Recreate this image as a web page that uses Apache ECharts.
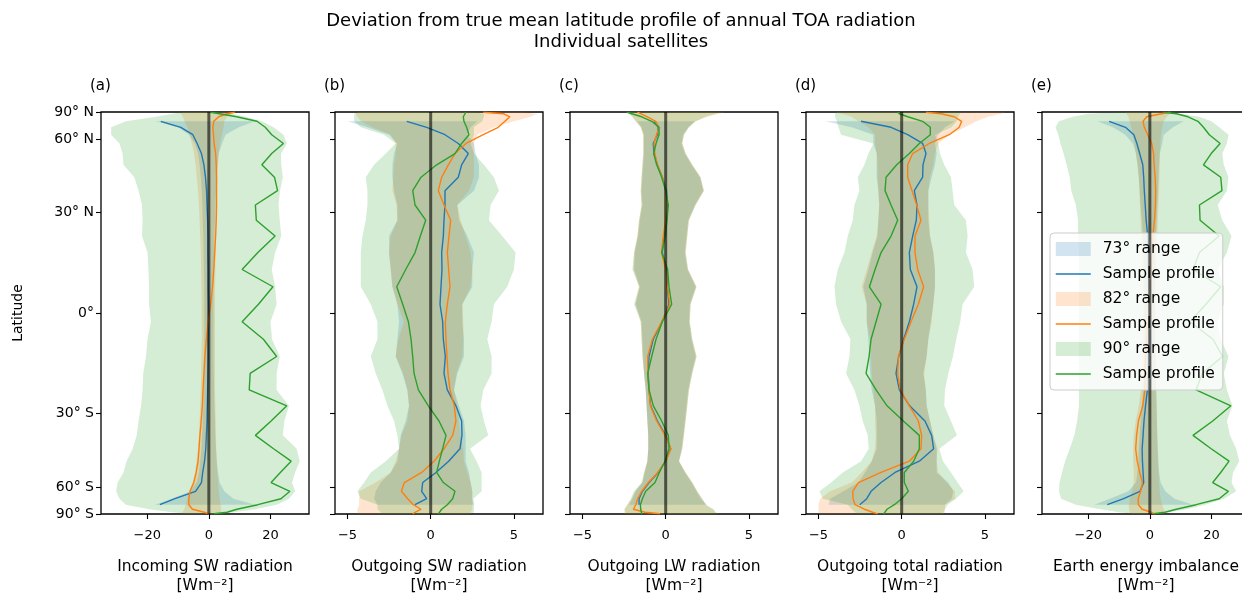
<!DOCTYPE html>
<html>
<head>
<meta charset="utf-8">
<script src="https://cdn.jsdelivr.net/npm/echarts@6/dist/echarts.min.js"></script>
<style>
html,body{margin:0;padding:0;background:#fff;}
#chart{width:1242px;height:595px;}
</style>
</head>
<body>
<div id="chart"></div>
<script>
var N = null;
// Latitude bin centres (degrees), south to north
var LAT = [-87.5,-82.5,-77.5,-72.5,-67.5,-62.5,-57.5,-52.5,-47.5,-42.5,-37.5,-32.5,-27.5,-22.5,-17.5,-12.5,-7.5,-2.5,
           2.5,7.5,12.5,17.5,22.5,27.5,32.5,37.5,42.5,47.5,52.5,57.5,62.5,67.5,72.5,77.5,82.5,87.5];
var LAT_TICKS = [-90,-60,-30,0,30,60,90];
var LAT_TICK_LABELS = ['90° S','60° S','30° S','0°','30° N','60° N','90° N'];
var X_TICKS_WIDE = [-20,0,20];
var X_TICKS_NARROW = [-5,0,5];
var PANEL_LETTERS = ['(a)','(b)','(c)','(d)','(e)'];
var AXIS_NAMES = ['Incoming SW radiation','Outgoing SW radiation','Outgoing LW radiation','Outgoing total radiation','Earth energy imbalance'];
var UNIT = '[Wm⁻²]';
var RANGE_NAMES = ['73° range','82° range','90° range'];
var PROFILE_NAMES = ['Sample profile','Sample profile\u200b','Sample profile\u200b\u200b'];
var TITLE_LINES = ['Deviation from true mean latitude profile of annual TOA radiation','Individual satellites'];

// (a) Incoming SW
var a73line = [N,N,N,-15.9,-11,-4.3,-2.4,-2.0,-1.4,-1.0,-0.8,-0.6,-0.5,-0.4,-0.3,-0.2,-0.2,-0.1, -0.1,-0.2,-0.2,-0.3,-0.3,-0.4,-0.6,-0.75,-1.1,-1.6,-2.4,-3.8,-5.2,-9.1,-15.6,N,N,N];
var a73lo = [N,N,N,-17.5,-12,-6,-4,-3.2,-2.8,-2.4,-2.2,-2.0,-1.8,-1.7,-1.6,-1.5,-1.5,-1.5, -1.5,-1.5,-1.6,-1.7,-1.8,-2.0,-2.1,-2.3,-2.6,-3.0,-3.5,-4.5,-6.5,-10,-17.2,N,N,N];
var a73hi = [N,N,N,15,8,5,3.5,3,2.6,2.3,2.1,2.0,1.8,1.7,1.6,1.5,1.5,1.5, 1.5,1.5,1.6,1.7,1.8,2.0,2.1,2.3,2.5,2.8,3.2,4.3,5.4,9.7,15,N,N,N];
var a82line = [0,-1.5,-5.3,-6.5,-6.5,-6.1,-4.9,-4.1,-3.5,-3.2,-2.9,-2.5,-2.1,-1.9,-1.6,-1.3,-0.8,-0.2, 0.6,1.2,1.6,1.9,2.2,2.4,2.5,2.5,2.5,2.4,2.2,1.7,1.5,1.3,1.6,3.2,5.9,8.4];
var a82lo = [-9,-8.5,-8,-7.5,-7,-6.5,-5.2,-4.5,-4,-3.5,-3.2,-3,-2.8,-2.6,-2.5,-2.4,-2.3,-2.3, -2.3,-2.4,-2.5,-2.6,-2.8,-3,-3.2,-3.5,-3.9,-4.3,-4.8,-5.5,-6.2,-7,-7.8,-8.5,-9,-9];
var a82hi = [4,4,4,3.8,3.5,3.2,3,2.7,2.5,2.4,2.3,2.2,2.1,2.0,2.0,2.0,2.0,2.0, 2.0,2.0,2.1,2.2,2.3,2.4,2.5,2.6,2.8,3.0,3.2,3.6,4.2,4.8,5,6,7.5,9];
var a90line = [1.6,5.9,9.1,15.9,23.4,26.3,20.2,23.2,26.7,21,15.1,20.2,25.3,13.1,13.4,22,17.7,10.8, 16.1,20.8,10.8,15.9,21.5,15.4,15.1,22.3,21.3,17.2,20.4,24.2,20.4,18.3,15.6,9,3.5,0.5];
var a90lo = [-6.5,-11.8,-19.4,-26.9,-29,-30.1,-29.6,-27.7,-26.7,-24.7,-23.4,-22.8,-22,-21.5,-21.3,-20.4,-19.9,-18.8, -19.4,-19.4,-19.6,-19.9,-21.7,-21.5,-21.7,-22.8,-24.2,-27.7,-28,-29,-31.7,-31.7,-26.9,-17.2,-11.8,-8.6];
var a90hi = [2,8,15,22,26,28,27,28,29.5,28.5,24,24.5,26,22,22,23,20.5,20, 22,21.5,20.4,21.5,23.5,23,22.6,23.1,24,23.5,23.4,25.3,24.2,21,17.2,11.8,7.5,2.2];

// (b) Outgoing SW
var b73line = [N,N,N,-0.94,-0.24,-0.54,-0.48,0.32,1.08,1.76,1.88,1.86,1.52,1.0,0.8,0.88,0.76,0.72, 0.56,0.62,0.68,0.66,0.76,0.8,0.86,0.86,1.66,1.86,2.26,1.66,0.86,-0.24,-1.44,N,N,N];
var b73lo = [N,N,N,-3.2,-3.4,-3.3,-3.0,-2.4,-2.0,-1.9,-1.8,-1.5,-1.3,-1.4,-1.7,-2.1,-2.0,-1.9, -2.0,-2.3,-2.4,-2.5,-2.5,-2.0,-2.0,-2.2,-2.3,-2.3,-2.2,-2.0,-2.5,-3.8,-5.0,N,N,N];
var b73hi = [N,N,N,2.6,2.5,2.5,2.4,2.3,2.1,2.1,2.1,2.0,1.7,1.4,1.6,2.0,2.0,1.9, 1.9,2.5,2.5,2.6,2.2,1.7,1.6,2.6,2.9,2.9,2.7,2.6,2.2,2.4,2.8,N,N,N];
var b82line = [-1.08,-0.94,-0.58,-1.04,-1.38,-1.76,-1.58,-0.54,0.2,0.8,1.32,1.52,1.42,1.16,1.04,0.98,0.92,0.88, 1.0,1.16,1.08,1.0,1.1,1.2,0.8,0.46,0.66,1.06,1.46,2.12,3.16,4.06,4.46,4.76,4.36,3.16];
var b82lo = [-4.4,-4.4,-4.4,-4.3,-4.3,-4.3,-3.3,-2.4,-2.1,-1.9,-1.75,-1.4,-1.3,-1.4,-1.65,-2.1,-1.95,-1.6, -2.0,-2.3,-2.4,-2.5,-2.4,-2.0,-2.05,-2.3,-2.25,-2.2,-2.1,-2.1,-2.4,-3.5,-4.2,-4.4,-4.5,-4.4];
var b82hi = [2.3,2.4,2.5,2.5,2.5,2.5,2.4,2.2,2.0,1.95,1.8,1.7,1.6,1.4,1.55,1.9,1.96,1.96, 1.9,2.4,2.5,2.4,2.1,1.8,1.6,2.3,2.6,2.6,2.6,2.6,2.8,3.8,5.0,6.0,6.4,5.5];
var b90line = [0.46,0.56,0.66,1.0,1.32,1.46,0.76,0.36,0.52,0.72,0.92,0.5,-0.14,-0.74,-1.0,-1.08,-1.18,-1.34, -1.68,-2.04,-1.5,-0.94,-0.62,-0.3,-0.94,-1.08,-0.58,0.36,1.46,1.86,2.3,2.16,2.0,1.96,2.06,2.1];
var b90lo = [-3.0,-3.0,-3.2,-3.2,-4.2,-4.4,-4.0,-3.6,-2.7,-1.9,-2.0,-2.2,-2.6,-2.9,-3.3,-3.6,-3.2,-3.2, -3.6,-4.2,-4.2,-4.2,-4.1,-3.9,-3.8,-3.8,-3.9,-3.4,-2.7,-2.1,-2.8,-4.2,-4.6,-4.6,-4.6,-4.3];
var b90hi = [2.4,2.6,2.6,2.6,2.56,3.06,3.06,3.06,2.76,2.36,3.46,3.2,3.0,3.16,3.66,3.66,3.4,3.66, 3.8,4.6,5.0,5.1,4.3,3.5,3.6,4.1,3.8,3.2,2.6,2.4,2.6,2.6,3.1,3.2,3.2,2.5];

// (c) Outgoing LW
var c73line = [N,N,N,-1.6,-1.6,-1.4,-1.0,-0.45,0.0,0.3,0.0,-0.5,-0.9,-1.0,-1.05,-1.0,-0.75,-0.22, 0.2,0.1,0.05,-0.2,-0.1,0.05,0.1,0.05,-0.2,-0.5,-0.7,-0.75,-0.5,-0.45,-0.7,N,N,N];
var c73lo = [N,N,N,-2.2,-2.0,-1.8,-1.4,-1.25,-1.1,-1.05,-1.05,-1.1,-1.15,-1.2,-1.3,-1.35,-1.4,-1.45, -1.8,-1.55,-1.9,-1.85,-1.65,-1.55,-1.4,-1.45,-1.4,-1.35,-1.3,-1.3,-1.3,-1.45,-1.7,N,N,N];
var c73hi = [N,N,N,2.5,2.1,1.85,1.55,1.15,0.8,0.95,1.05,1.15,1.25,1.35,1.55,1.8,1.55,1.4, 1.45,1.8,1.3,1.15,1.25,1.35,1.75,2.25,2.05,1.55,1.15,0.95,1.05,1.35,1.75,N,N,N];
var c82line = [-0.34,-1.24,-1.94,-1.8,-1.68,-1.44,-1.04,-0.48,0,0.32,-0.04,-0.54,-0.92,-1.0,-1.08,-1.08,-0.8,-0.24, 0.25,0.1,0.0,-0.25,-0.15,0,0.05,0,-0.2,-0.5,-0.65,-0.7,-0.55,-0.4,-0.6,-1.1,-1.5,-1.7];
var c82lo = [-2.5,-2.5,-2.45,-2.3,-2.05,-1.85,-1.4,-1.3,-1.1,-1.05,-1.05,-1.1,-1.15,-1.2,-1.3,-1.4,-1.45,-1.5, -1.85,-1.6,-1.95,-1.9,-1.7,-1.6,-1.45,-1.5,-1.45,-1.4,-1.35,-1.35,-1.35,-1.5,-1.8,-2.0,-2.2,-2.4];
var c82hi = [3.1,3.0,2.8,2.4,2.2,1.9,1.6,1.2,0.8,1.0,1.1,1.2,1.3,1.4,1.6,1.85,1.6,1.45, 1.5,1.85,1.35,1.2,1.3,1.4,1.8,2.3,2.1,1.6,1.2,1.0,1.1,1.4,1.8,2.5,3.2,3.6];
var c90line = [-1.44,-1.5,-1.5,-1.52,-1.4,-1.2,-0.64,-0.38,-0.04,0.2,0.16,-0.24,-0.74,-1.0,-1.08,-0.84,-0.58,-0.2, 0.36,0.2,0.12,-0.24,-0.02,0.08,0.16,0,-0.24,-0.54,-0.72,-0.58,-0.4,-0.4,-0.84,-1.44,-2.04,-2.34];
var c90lo = [-2.4,-2.4,-2.5,-2.3,-2.1,-1.9,-1.45,-1.3,-1.1,-1.04,-1.05,-1.1,-1.15,-1.2,-1.3,-1.4,-1.45,-1.5, -1.9,-1.6,-2.0,-1.9,-1.7,-1.6,-1.45,-1.5,-1.45,-1.4,-1.35,-1.35,-1.35,-1.5,-1.8,-2.0,-2.2,-2.44];
var c90hi = [3.2,3.0,2.9,2.4,2.2,1.9,1.6,1.2,0.8,1.0,1.1,1.2,1.3,1.4,1.6,1.86,1.6,1.45, 1.5,1.85,1.35,1.2,1.3,1.4,1.8,2.3,2.1,1.6,1.2,1.0,1.1,1.4,1.8,2.4,3.0,3.4];

// (d) Outgoing total
var d73line = [N,N,N,-2.52,-2.1,-1.84,-1.24,-0.4,1.06,1.92,1.8,1.4,0.48,-0.14,-0.34,-0.18,0.12,0.46, 0.72,0.92,0.52,0.46,0.66,0.88,0.92,0.76,1.26,1.28,1.46,1.26,0.36,-0.64,-2.44,N,N,N];
var d73lo = [N,N,N,-4.4,-4.3,-3.5,-2.6,-2.2,-1.8,-1.5,-1.5,-1.5,-1.6,-1.8,-1.9,-1.95,-2.0,-2.1, -2.1,-2.3,-2.0,-1.75,-1.45,-1.4,-1.35,-1.4,-1.5,-1.5,-1.5,-1.7,-1.7,-3.0,-4.6,N,N,N];
var d73hi = [N,N,N,2.6,3.0,3.1,2.8,2.1,2.1,2.1,1.9,1.7,1.5,1.45,1.3,1.5,1.6,1.75, 1.9,2.0,2.0,1.9,1.7,1.6,1.6,1.6,1.8,2.0,2.1,2.0,2.2,2.6,3.2,N,N,N];
var d82line = [-1.44,-1.74,-2.24,-2.8,-2.92,-2.94,-2.6,-1.24,0.46,1.16,1.2,1.0,0.46,-0.08,-0.24,-0.2,0.16,0.56, 1.0,1.32,0.96,0.8,0.8,1.16,0.9,0.62,0.36,0.36,0.66,1.66,2.86,3.46,3.6,3.16,2.36,1.46];
var d82lo = [-5.0,-5.0,-5.0,-5.0,-4.9,-4.3,-3.0,-2.4,-1.8,-1.6,-1.55,-1.6,-1.6,-1.7,-1.8,-1.85,-1.9,-2.1, -2.1,-2.4,-2.1,-1.8,-1.5,-1.4,-1.35,-1.4,-1.45,-1.45,-1.5,-1.6,-1.6,-2.0,-2.6,-3.0,-3.6,-4.0];
var d82hi = [2.5,2.6,2.6,2.6,3.2,3.2,2.7,2.2,2.1,2.15,1.9,1.7,1.5,1.45,1.35,1.5,1.6,1.8, 1.9,2.0,2.0,1.9,1.7,1.65,1.6,1.6,1.7,1.9,2.0,2.2,2.9,3.8,4.5,5.2,6.0,6.2];
var d90line = [-1.08,-1.0,-0.88,-0.44,0,0.4,0.16,0.16,0.72,1.06,1.06,0.1,-0.88,-1.54,-2.14,-1.96,-1.84,-1.54, -1.24,-1.94,-1.6,-1.24,-0.64,-0.24,-0.64,-1.0,-0.94,-0.3,0.46,1.06,1.72,1.72,1.26,0.36,-0.14,-0.24];
var d90lo = [-2.6,-2.8,-3.0,-3.24,-4.74,-4.94,-4.24,-3.54,-2.44,-1.98,-2.04,-2.34,-2.54,-2.84,-3.34,-3.14,-3.08,-3.64, -3.94,-4.04,-3.84,-3.44,-3.24,-2.94,-2.84,-2.54,-2.64,-2.24,-2.0,-1.7,-3.64,-3.8,-3.9,-4.0,-4.0,-4.0];
var d90hi = [2.5,2.5,2.6,2.76,3.26,3.72,3.36,2.96,2.48,2.26,3.32,2.96,2.56,2.6,2.8,3.08,3.28,3.52, 3.66,4.36,4.26,3.86,3.96,3.86,3.16,3.06,2.96,2.56,2.3,2.2,2.0,3.0,3.3,3.4,3.5,3.5];

// (e) Earth energy imbalance
var e73line = [N,N,N,-13.8,-8.5,-3.2,-2.0,-2.2,-2.4,-2.5,-2.2,-1.9,-1.4,-0.8,-0.6,-0.5,-0.4,-0.3, -0.3,-0.4,-0.5,-0.6,-0.7,-1.2,-1.5,-1.8,-2.0,-2.3,-3.3,-4.2,-5.2,-7.9,-13.2,N,N,N];
var e73lo = [N,N,N,-18,-13,-7,-4.5,-4,-3.8,-3.6,-3.3,-3.0,-2.6,-2.2,-2.0,-1.8,-1.7,-1.7, -1.7,-1.7,-1.8,-2.0,-2.2,-2.6,-3.0,-3.3,-3.6,-4.0,-4.5,-5.5,-8,-12,-17,N,N,N];
var e73hi = [N,N,N,14,8,5,3.5,3,2.8,2.6,2.4,2.3,2.2,2.0,1.9,1.8,1.7,1.7, 1.7,1.7,1.8,1.9,2.0,2.2,2.4,2.6,2.8,3.0,3.2,4,4.5,7.5,11,N,N,N];
var e82line = [1.5,0.5,-2.5,-3.7,-3.8,-3.0,-2.4,-3.3,-4.1,-4.6,-4.3,-3.7,-2.3,-1.6,-1.6,-1.4,-1.1,-0.6, 0.1,0.3,0.5,0.7,1.0,1.5,1.8,1.9,1.7,1.4,1.2,0.6,-0.7,-1.8,-2.2,-1.0,3.8,6.5];
var e82lo = [-6,-6.5,-6.8,-6.8,-6.5,-5.8,-5.2,-5.2,-5.4,-5.4,-5.2,-4.6,-3.6,-2.9,-2.6,-2.4,-2.3,-2.3, -2.3,-2.4,-2.5,-2.6,-2.8,-3,-3.2,-3.4,-3.6,-4,-4.5,-5,-5.5,-6,-6.5,-7,-7.5,-8];
var e82hi = [5,5,4.5,4,3.5,3.2,3,2.8,2.6,2.5,2.4,2.3,2.2,2.1,2.0,2.0,2.0,2.0, 2.0,2.0,2.1,2.2,2.4,2.6,2.8,3.0,3.1,3.2,3.3,3.4,3.6,4,4.5,5.5,6.5,7];
var e90line = [1.2,4.9,8.6,15,22.5,25.5,20.4,23,25.7,19.9,14,20.4,26.3,15,17,23.6,20.5,13, 18.2,23,14,16.1,22.5,16.3,16.1,23.4,23,17.4,19.9,22.8,19.3,17.4,15.6,12.4,8.6,4.4];
var e90lo = [-5,-10,-16,-24,-28.8,-29.5,-29.3,-28.5,-27.5,-26,-24.5,-23.6,-23,-23,-23,-23,-23,-23, -23,-23,-23,-23,-23.3,-23.3,-24,-25.5,-26,-27,-28,-29,-29.7,-30.6,-29.5,-25,-20,-10];
var e90hi = [2,6,12,18,24,28,26.5,27,29,28,26,25,26.8,25,24,25.5,23,22, 24,24,22,25,26.5,23.5,22,25,25.5,24,23.5,25,25.5,22.5,20,16,10,4];

var PANELS = [
  {xmin:-35, xmax:32.5, ticks:X_TICKS_WIDE, lines:[a73line,a82line,a90line], lo:[a73lo,a82lo,a90lo], hi:[a73hi,a82hi,a90hi]},
  {xmin:-5.75, xmax:6.75, ticks:X_TICKS_NARROW, lines:[b73line,b82line,b90line], lo:[b73lo,b82lo,b90lo], hi:[b73hi,b82hi,b90hi]},
  {xmin:-5.75, xmax:6.75, ticks:X_TICKS_NARROW, lines:[c73line,c82line,c90line], lo:[c73lo,c82lo,c90lo], hi:[c73hi,c82hi,c90hi]},
  {xmin:-5.75, xmax:6.75, ticks:X_TICKS_NARROW, lines:[d73line,d82line,d90line], lo:[d73lo,d82lo,d90lo], hi:[d73hi,d82hi,d90hi]},
  {xmin:-35, xmax:32.5, ticks:X_TICKS_WIDE, lines:[e73line,e82line,e90line], lo:[e73lo,e82lo,e90lo], hi:[e73hi,e82hi,e90hi]}
];

var COLORS = ['#1f77b4','#ff7f0e','#2ca02c'];
var FILLS = ['rgba(31,119,180,0.2)','rgba(255,127,14,0.2)','rgba(44,160,44,0.2)'];
var FONT = 'DejaVu Sans';
var GRID_LEFT = [101,335,570,806,1042];
var GRID_TOP = 112, GRID_W = 208, GRID_H = 402;

function sinLat(d){ return Math.sin(d*Math.PI/180); }
var SIN_TICKS = LAT_TICKS.map(sinLat);
function yLabel(v){
  for (var i=0;i<SIN_TICKS.length;i++){ if (Math.abs(SIN_TICKS[i]-v)<1e-6) return LAT_TICK_LABELS[i]; }
  return '';
}
function xLabel(v){ return v<0 ? '\u2212'+Math.abs(v) : String(v); }

var grids=[], xAxes=[], yAxes=[], series=[], titles=[];
titles.push({text:TITLE_LINES[0], left:'center', top:12, padding:0,
  textStyle:{fontFamily:FONT, fontSize:18, fontWeight:'normal', color:'#000'}});
titles.push({text:TITLE_LINES[1], left:'center', top:33, padding:0,
  textStyle:{fontFamily:FONT, fontSize:18, fontWeight:'normal', color:'#000'}});

PANELS.forEach(function(p, gi){
  grids.push({left:GRID_LEFT[gi], top:GRID_TOP, width:GRID_W, height:GRID_H, show:true,
    outerBoundsMode:'none', containLabel:false,
    borderColor:'#000', borderWidth:1.3, backgroundColor:'rgba(0,0,0,0)'});
  xAxes.push({type:'value', gridIndex:gi, min:p.xmin, max:p.xmax, position:'bottom',
    axisLine:{show:false, onZero:false}, splitLine:{show:false},
    axisTick:{show:true, inside:false, length:5, customValues:p.ticks, lineStyle:{color:'#000', width:1.1}},
    axisLabel:{customValues:p.ticks, formatter:xLabel, color:'#000', fontSize:13, fontFamily:FONT, margin:15},
    name:AXIS_NAMES[gi]+'\n'+UNIT, nameLocation:'middle', nameGap:43,
    nameTextStyle:{fontFamily:FONT, fontSize:15.5, color:'#000', lineHeight:19}
  });
  yAxes.push({type:'value', gridIndex:gi, min:-1, max:1, position:'left',
    axisLine:{show:false, onZero:false}, splitLine:{show:false},
    axisTick:{show:true, inside:false, length:5, customValues:SIN_TICKS, lineStyle:{color:'#000', width:1.1}},
    axisLabel:{show: gi===0, customValues:SIN_TICKS, formatter:yLabel, color:'#000', fontSize:14, fontFamily:FONT, margin:7},
    name: gi===0 ? 'Latitude' : '', nameLocation:'middle', nameGap:76, nameRotate:90,
    nameTextStyle:{fontFamily:FONT, fontSize:14, color:'#000'}
  });
  titles.push({text:PANEL_LETTERS[gi], left:GRID_LEFT[gi]-11, top:79, padding:0,
    textStyle:{fontFamily:FONT, fontSize:15, fontWeight:'normal', color:'#000'}});

  // range bands
  for (var k=0;k<3;k++){
    (function(k){
      var lo=p.lo[k], hi=p.hi[k];
      var pts = [];
      LAT.forEach(function(l,i){ if (lo[i]!=null && hi[i]!=null) pts.push([lo[i],hi[i],sinLat(l)]); });
      series.push({type:'custom', name:RANGE_NAMES[k], xAxisIndex:gi, yAxisIndex:gi, z:1, silent:true,
        itemStyle:{color:FILLS[k]},
        data:pts, encode:{x:[0,1], y:2},
        renderItem:function(params, api){
          if (params.dataIndex!==0) return null;
          var left = pts.map(function(q){ return api.coord([q[0], q[2]]); });
          var right = pts.slice().reverse().map(function(q){ return api.coord([q[1], q[2]]); });
          return {type:'polygon', shape:{points:left.concat(right)}, style:{fill:FILLS[k], stroke:null}};
        }
      });
    })(k);
  }
  // sample profiles
  for (var k2=0;k2<3;k2++){
    var ln = p.lines[k2], d=[];
    LAT.forEach(function(l,i){ if (ln[i]!=null) d.push([ln[i], sinLat(l)]); });
    series.push({type:'line', name:PROFILE_NAMES[k2], xAxisIndex:gi, yAxisIndex:gi, z:3, silent:true,
      data:d, symbol:'none', showSymbol:false, color:COLORS[k2],
      lineStyle:{color:COLORS[k2], width:1.4}});
  }
  // zero line
  series.push({type:'line', name:'zero', xAxisIndex:gi, yAxisIndex:gi, z:4, silent:true,
    data:[[0,-1],[0,1]], symbol:'none', lineStyle:{color:'rgba(0,0,0,0.6)', width:3}});
});

var legendData = [];
for (var k=0;k<3;k++){
  legendData.push({name:RANGE_NAMES[k], icon:'rect', itemStyle:{color:FILLS[k], borderWidth:0}});
  legendData.push({name:PROFILE_NAMES[k], itemStyle:{color:'rgba(0,0,0,0)', borderWidth:0, opacity:0},
    lineStyle:{color:COLORS[k], width:1.5}});
}

var chart = echarts.init(document.getElementById('chart'), null, {renderer:'canvas'});
chart.setOption({
  animation:false,
  backgroundColor:'#fff',
  title:titles,
  grid:grids, xAxis:xAxes, yAxis:yAxes, series:series,
  legend:{data:legendData, orient:'vertical', left:1050, top:233, selectedMode:false,
    itemWidth:35, itemHeight:14, itemGap:7,
    padding:[7,8,7,5], backgroundColor:'rgba(255,255,255,0.8)', borderColor:'#cccccc', borderWidth:1, borderRadius:4,
    textStyle:{fontFamily:FONT, fontSize:15.5, color:'#000', lineHeight:18, padding:[0,0,0,7]}}
});
</script>
</body>
</html>
